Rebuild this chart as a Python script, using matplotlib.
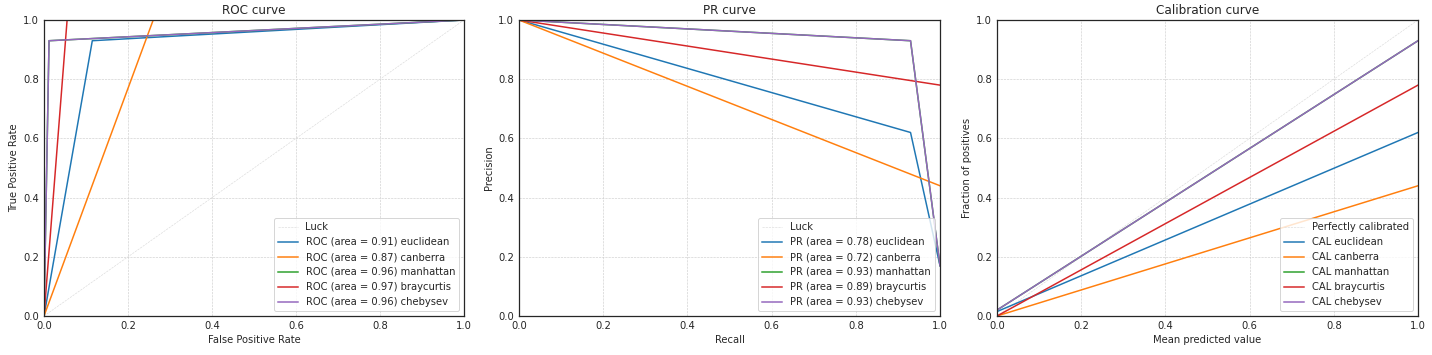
# ROC / PR / calibration curves for five distance metrics

import matplotlib.pyplot as plt

metrics = ["euclidean", "canberra", "manhattan", "braycurtis", "chebysev"]
colors = ["tab:blue", "tab:orange", "tab:green", "tab:red", "tab:purple"]

# ROC points (fpr, tpr)
roc_fpr = {
    "euclidean": [0.0, 0.115, 1.0],
    "canberra": [0.0, 0.26, 1.0],
    "manhattan": [0.0, 0.012, 1.0],
    "braycurtis": [0.0, 0.055, 1.0],
    "chebysev": [0.0, 0.012, 1.0],
}
roc_tpr = {
    "euclidean": [0.0, 0.93, 1.0],
    "canberra": [0.0, 1.0, 1.0],
    "manhattan": [0.0, 0.93, 1.0],
    "braycurtis": [0.0, 1.0, 1.0],
    "chebysev": [0.0, 0.93, 1.0],
}
roc_auc = [0.91, 0.87, 0.96, 0.97, 0.96]

# PR points (recall, precision)
pr_recall = {
    "euclidean": [0.0, 0.93, 1.0],
    "canberra": [0.0, 1.0, 1.0],
    "manhattan": [0.0, 0.93, 1.0],
    "braycurtis": [0.0, 1.0, 1.0],
    "chebysev": [0.0, 0.93, 1.0],
}
pr_precision = {
    "euclidean": [1.0, 0.62, 0.17],
    "canberra": [1.0, 0.44, 0.44],
    "manhattan": [1.0, 0.93, 0.17],
    "braycurtis": [1.0, 0.78, 0.78],
    "chebysev": [1.0, 0.93, 0.17],
}
pr_auc = [0.78, 0.72, 0.93, 0.89, 0.93]

# calibration (mean predicted, fraction of positives)
cal_pred = [0.0, 1.0]
cal_frac = {
    "euclidean": [0.015, 0.62],
    "canberra": [0.0, 0.44],
    "manhattan": [0.02, 0.93],
    "braycurtis": [0.0, 0.78],
    "chebysev": [0.02, 0.93],
}

plt.rcParams["text.color"] = "#262626"
plt.rcParams["axes.labelcolor"] = "#262626"
plt.rcParams["xtick.color"] = "#262626"
plt.rcParams["ytick.color"] = "#262626"

fig = plt.figure(figsize=(1432 / 72, 355 / 72), dpi=72)
H = 355.0
W = 1432.0
bottom = 1 - 316 / H
height = 296 / H
ax1 = fig.add_axes([44 / W, bottom, 420 / W, height])
ax2 = fig.add_axes([519 / W, bottom, 421 / W, height])
ax3 = fig.add_axes([997 / W, bottom, 421 / W, height])

luck_kw = dict(linestyle="--", lw=0.6, color="#d9d9d9")

# ROC
ax1.plot([0, 1], [0, 1], label="Luck", **luck_kw)
for m, c, a in zip(metrics, colors, roc_auc):
    ax1.plot(roc_fpr[m], roc_tpr[m], color=c, label=f"ROC (area = {a:.2f}) {m}")
ax1.set_xlabel("False Positive Rate")
ax1.set_ylabel("True Positive Rate")
ax1.set_title("ROC curve")

# PR (luck line sits on the top edge)
ax2.plot([0, 1], [1, 1], label="Luck", **luck_kw)
for m, c, a in zip(metrics, colors, pr_auc):
    ax2.plot(pr_recall[m], pr_precision[m], color=c, label=f"PR (area = {a:.2f}) {m}")
ax2.set_xlabel("Recall")
ax2.set_ylabel("Precision")
ax2.set_title("PR curve")

# Calibration
ax3.plot([0, 1], [0, 1], label="Perfectly calibrated", **luck_kw)
for m, c in zip(metrics, colors):
    ax3.plot(cal_pred, cal_frac[m], color=c, label=f"CAL {m}")
ax3.set_xlabel("Mean predicted value")
ax3.set_ylabel("Fraction of positives")
ax3.set_title("Calibration curve")

for ax in (ax1, ax2, ax3):
    ax.set_xlim(0, 1)
    ax.set_ylim(0, 1)
    ax.grid(True, linestyle="--", color="#cccccc", lw=0.6)
    ax.tick_params(length=0, pad=5)
    for s in ax.spines.values():
        s.set_color("#262626")
        s.set_linewidth(1.25)
    leg = ax.legend(loc="lower right", fontsize=10, frameon=True)
    leg.get_frame().set_edgecolor("#cccccc")

fig.savefig("out.png", dpi=72)
